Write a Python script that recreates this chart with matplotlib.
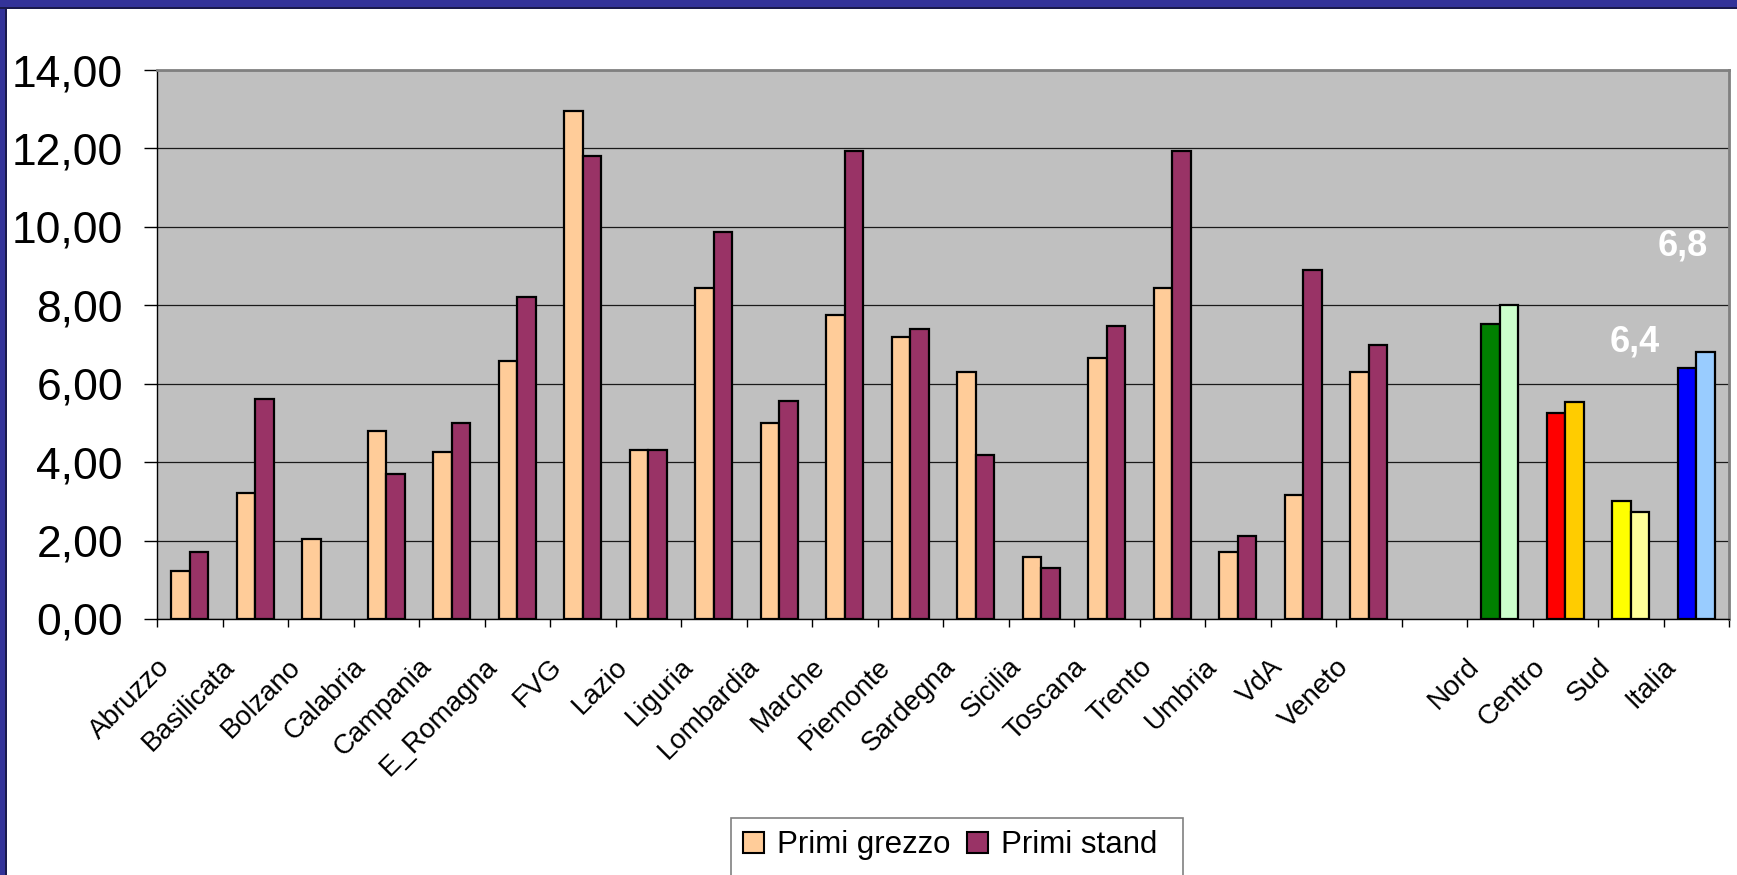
import numpy as np
import matplotlib
matplotlib.use("Agg")
import matplotlib.pyplot as plt
from matplotlib.patches import Rectangle, Patch
from matplotlib.ticker import FuncFormatter, MultipleLocator
import matplotlib.transforms as mtransforms
from matplotlib import font_manager

plt.rcParams['font.family'] = ['Liberation Sans', 'DejaVu Sans']

# Regional rates, then an empty slot, then macro-areas and Italy
categories = ["Abruzzo", "Basilicata", "Bolzano", "Calabria", "Campania", "E_Romagna",
              "FVG", "Lazio", "Liguria", "Lombardia", "Marche", "Piemonte", "Sardegna",
              "Sicilia", "Toscana", "Trento", "Umbria", "VdA", "Veneto",
              "", "Nord", "Centro", "Sud", "Italia"]

primi_grezzo = [1.22, 3.21, 2.03, 4.79, 4.25, 6.58, 12.95, 4.31, 8.43, 5.00, 7.74, 7.19,
                6.30, 1.58, 6.65, 8.43, 1.70, 3.15, 6.30,
                None, 7.53, 5.25, 3.00, 6.4]
primi_stand = [1.70, 5.61, None, 3.70, 5.00, 8.22, 11.80, 4.31, 9.87, 5.55, 11.93, 7.40,
               4.17, 1.29, 7.47, 11.93, 2.12, 8.91, 6.99,
               None, 8.01, 5.54, 2.73, 6.8]

grezzo_colors = ["#FFCC99"] * 19 + ["#FFCC99", "#008000", "#FF0000", "#FFFF00", "#0000FF"]
stand_colors = ["#993366"] * 19 + ["#993366", "#CCFFCC", "#FFCC00", "#FFFF99", "#99CCFF"]

# values written next to the Italia bars
italia_idx = categories.index("Italia")

# category labels use a narrow face when one is available
installed = {f.name for f in font_manager.fontManager.ttflist}
if "Liberation Sans Narrow" in installed:
    label_family, label_size = "Liberation Sans Narrow", 22.5
else:
    label_family, label_size = "Liberation Sans", 20

W, H = 1737, 875
fig = plt.figure(figsize=(W / 100, H / 100), dpi=100)
fig.patch.set_facecolor("white")

# slide frame (left and top strips)
fig.add_artist(Rectangle((0, 0), 7 / W, 1, transform=fig.transFigure,
                         facecolor="#1A1A4D", edgecolor="none", zorder=0))
fig.add_artist(Rectangle((0, 0), 5 / W, 1, transform=fig.transFigure,
                         facecolor="#333399", edgecolor="none", zorder=0))
fig.add_artist(Rectangle((0, 1 - 9 / H), 1, 9 / H, transform=fig.transFigure,
                         facecolor="#1A1A4D", edgecolor="none", zorder=0))
fig.add_artist(Rectangle((0, 1 - 7 / H), 1, 7 / H, transform=fig.transFigure,
                         facecolor="#333399", edgecolor="none", zorder=0))

ax = fig.add_axes([157 / W, 1 - 619 / H, (1729 - 157) / W, (619 - 70) / H])
ax.set_facecolor("#C0C0C0")

x = np.arange(len(categories))
bw = 0.285
g = np.array([np.nan if v is None else v for v in primi_grezzo], dtype=float)
s = np.array([np.nan if v is None else v for v in primi_stand], dtype=float)

ax.bar(x - bw / 2, g, width=bw, color=grezzo_colors, edgecolor="black",
       linewidth=1.6, zorder=3)
ax.bar(x + bw / 2, s, width=bw, color=stand_colors, edgecolor="black",
       linewidth=1.6, zorder=3)

ax.set_xlim(-0.5, len(categories) - 0.5)
ax.set_ylim(0, 14)

# y axis
ax.yaxis.set_major_locator(MultipleLocator(2))
ax.yaxis.set_major_formatter(FuncFormatter(lambda v, p: f"{v:.2f}".replace(".", ",")))
ax.tick_params(axis="y", length=9.5, width=1, pad=15, labelsize=32, direction="out",
               color="black")
ax.grid(axis="y", color="#1A1A1A", linewidth=0.9, zorder=1)
ax.set_axisbelow(True)

# x axis: labels at centres, tick marks at category boundaries
ax.set_xticks(x)
ax.set_xticklabels(categories, rotation=45, ha="right", va="top",
                   fontsize=label_size, family=label_family)
ax.set_xticks(np.arange(len(categories) + 1) - 0.5, minor=True)
ax.tick_params(axis="x", which="major", length=0, pad=25)
ax.tick_params(axis="x", which="minor", length=6, width=1, color="black", direction="out")
shift = mtransforms.ScaledTranslation(-15 / 100, 0, fig.dpi_scale_trans)
for lab in ax.get_xticklabels():
    lab.set_transform(lab.get_transform() + shift)

for side in ("top", "right"):
    ax.spines[side].set_color("#808080")
    ax.spines[side].set_linewidth(2)
for side in ("left", "bottom"):
    ax.spines[side].set_color("black")
    ax.spines[side].set_linewidth(1)

# value labels for Italia
ax.annotate(f"{primi_grezzo[italia_idx]:.1f}".replace(".", ","),
            xy=(x[italia_idx] - bw / 2, primi_grezzo[italia_idx]),
            xytext=(-37.5, 18.5), textcoords="offset points",
            ha="center", va="center", color="white", fontsize=26, fontweight="bold")
ax.annotate(f"{primi_stand[italia_idx]:.1f}".replace(".", ","),
            xy=(x[italia_idx] + bw / 2, primi_stand[italia_idx]),
            xytext=(-16.5, 76.5), textcoords="offset points",
            ha="center", va="center", color="white", fontsize=26, fontweight="bold")

# legend
fig.add_artist(Rectangle((731 / W, -0.02), (1183 - 731) / W, 1 - 818 / H + 0.02,
                         transform=fig.transFigure, facecolor="white",
                         edgecolor="#808080", linewidth=1.2, zorder=1))
handles = [Patch(facecolor="#FFCC99", edgecolor="black", linewidth=1.5),
           Patch(facecolor="#993366", edgecolor="black", linewidth=1.5)]
fig.legend(handles, ["Primi grezzo", "Primi stand"], loc="center left",
           bbox_to_anchor=(743 / W, 1 - 845 / H), ncol=2, frameon=False,
           fontsize=22.5, handlelength=0.66, handleheight=0.66, handletextpad=0.42,
           columnspacing=0.55, borderpad=0, borderaxespad=0)

fig.savefig("out.png", dpi=100, facecolor=fig.get_facecolor())
